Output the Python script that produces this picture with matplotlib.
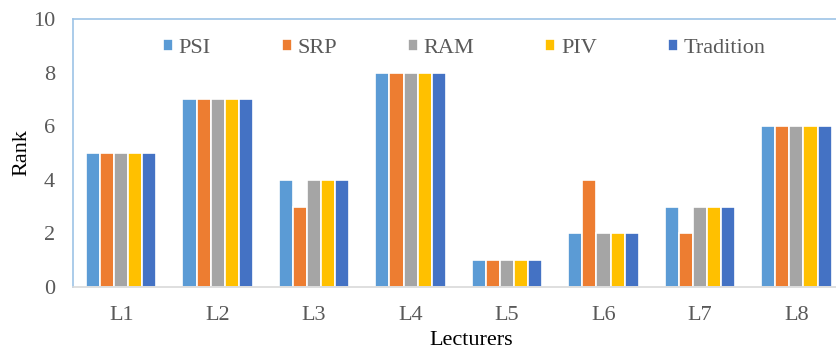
import numpy as np
import matplotlib
matplotlib.use('Agg')
import matplotlib.pyplot as plt

plt.rcParams['font.family'] = ['Liberation Serif', 'DejaVu Serif']

lecturers = ['L1', 'L2', 'L3', 'L4', 'L5', 'L6', 'L7', 'L8']
psi = [5, 7, 4, 8, 1, 2, 3, 6]
srp = [5, 7, 3, 8, 1, 4, 2, 6]
ram = [5, 7, 4, 8, 1, 2, 3, 6]
piv = [5, 7, 4, 8, 1, 2, 3, 6]
tradition = [5, 7, 4, 8, 1, 2, 3, 6]

series = [('PSI', psi, '#5B9BD5'), ('SRP', srp, '#ED7D31'),
          ('RAM', ram, '#A5A5A5'), ('PIV', piv, '#FFC000'),
          ('Tradition', tradition, '#4472C4')]

fig = plt.figure(figsize=(8.36, 3.51), dpi=100)
ax = fig.add_axes([0.0873, 0.1823, 0.923, 0.7635])

x = np.arange(len(lecturers))
step = 0.146
for i, (name, vals, col) in enumerate(series):
    ax.bar(x + (i - 2) * step, vals, width=step, color=col,
           edgecolor='white', linewidth=1.2, label=name)

ax.set_xlim(-0.5, 7.5)
ax.set_ylim(0, 10)
ax.set_yticks(range(0, 11, 2))
ax.set_xticks(x)
ax.set_xticklabels(lecturers)
ax.tick_params(length=0, labelsize=16, labelcolor='#595959')
ax.tick_params(axis='x', pad=14)
ax.tick_params(axis='y', pad=13)

for s in ['top', 'left']:
    ax.spines[s].set_color('#9DC3E6')
    ax.spines[s].set_linewidth(1.2)
ax.spines['bottom'].set_color('#D9D9D9')
ax.spines['bottom'].set_linewidth(1.2)
ax.spines['right'].set_visible(False)

ax.set_ylabel('Rank', fontsize=16, labelpad=1)
ax.set_xlabel('Lecturers', fontsize=16, labelpad=4)
ax.xaxis.label.set_x(0.516)

ax.legend(loc='upper center', bbox_to_anchor=(0.507, 1.0), ncol=5, frameon=False,
          fontsize=16, handlelength=0.45, handleheight=0.45, handletextpad=0.25,
          columnspacing=3.2, labelcolor='#595959')

fig.savefig('out.png', dpi=100)
